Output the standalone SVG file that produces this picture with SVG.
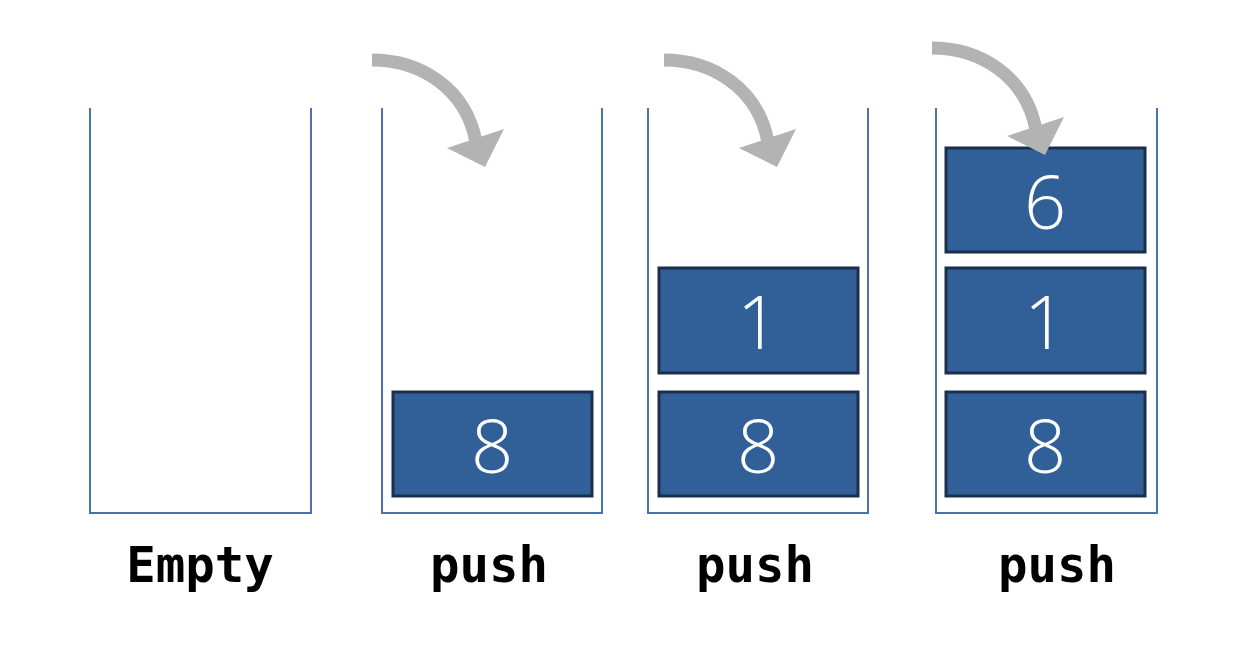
<svg xmlns="http://www.w3.org/2000/svg" xmlns:xlink="http://www.w3.org/1999/xlink" width="1255" height="650" viewBox="0 0 1255 650">
<style>
.cont{fill:none;stroke:#4a72b0;stroke-width:2}
.box{fill:#316098;stroke:#1b2e4b;stroke-width:3}
.num{fill:#fff;font-family:"Open Sans",sans-serif;font-weight:300;font-size:74px;text-anchor:middle}
.lbl{fill:#000;font-family:"DejaVu Sans Mono",monospace;font-weight:bold;font-size:49px;text-anchor:middle}
.shaft{fill:none;stroke:#b3b3b3;stroke-width:13}
.head{fill:#b3b3b3}
</style>
<defs>
<g id="arrow">
<path class="shaft" d="M372,60 C420,60 466,88 476,142"/>
<polygon class="head" points="447,148 504,129 485,167"/>
</g>
</defs>
<rect width="1255" height="650" fill="#fff"/>
<g id="stack-empty">
<polyline class="cont" points="90,108 90,513 311,513 311,108"/>
<text class="lbl" x="200" y="582">Empty</text>
</g>
<g id="stack-push1">
<polyline class="cont" points="382,108 382,513 602,513 602,108"/>
<rect class="box" x="393" y="392" width="199" height="104"/>
<text class="num" x="492" y="473">8</text>
<text class="lbl" x="489" y="582">push</text>
</g>
<g id="stack-push2">
<polyline class="cont" points="648,108 648,513 868,513 868,108"/>
<rect class="box" x="659" y="268" width="199" height="105"/>
<text class="num" x="758" y="349">1</text>
<rect class="box" x="659" y="392" width="199" height="104"/>
<text class="num" x="758" y="473">8</text>
<text class="lbl" x="755" y="582">push</text>
</g>
<g id="stack-push3">
<polyline class="cont" points="936,108 936,513 1157,513 1157,108"/>
<rect class="box" x="946" y="148" width="199" height="104"/>
<text class="num" x="1045" y="229">6</text>
<rect class="box" x="946" y="268" width="199" height="105"/>
<text class="num" x="1045" y="349">1</text>
<rect class="box" x="946" y="392" width="199" height="104"/>
<text class="num" x="1045" y="473">8</text>
<text class="lbl" x="1057" y="582">push</text>
</g>
<g id="connectors">
<use xlink:href="#arrow"/>
<use xlink:href="#arrow" transform="translate(292,0)"/>
<use xlink:href="#arrow" transform="translate(560,-12)"/>
</g>
</svg>
